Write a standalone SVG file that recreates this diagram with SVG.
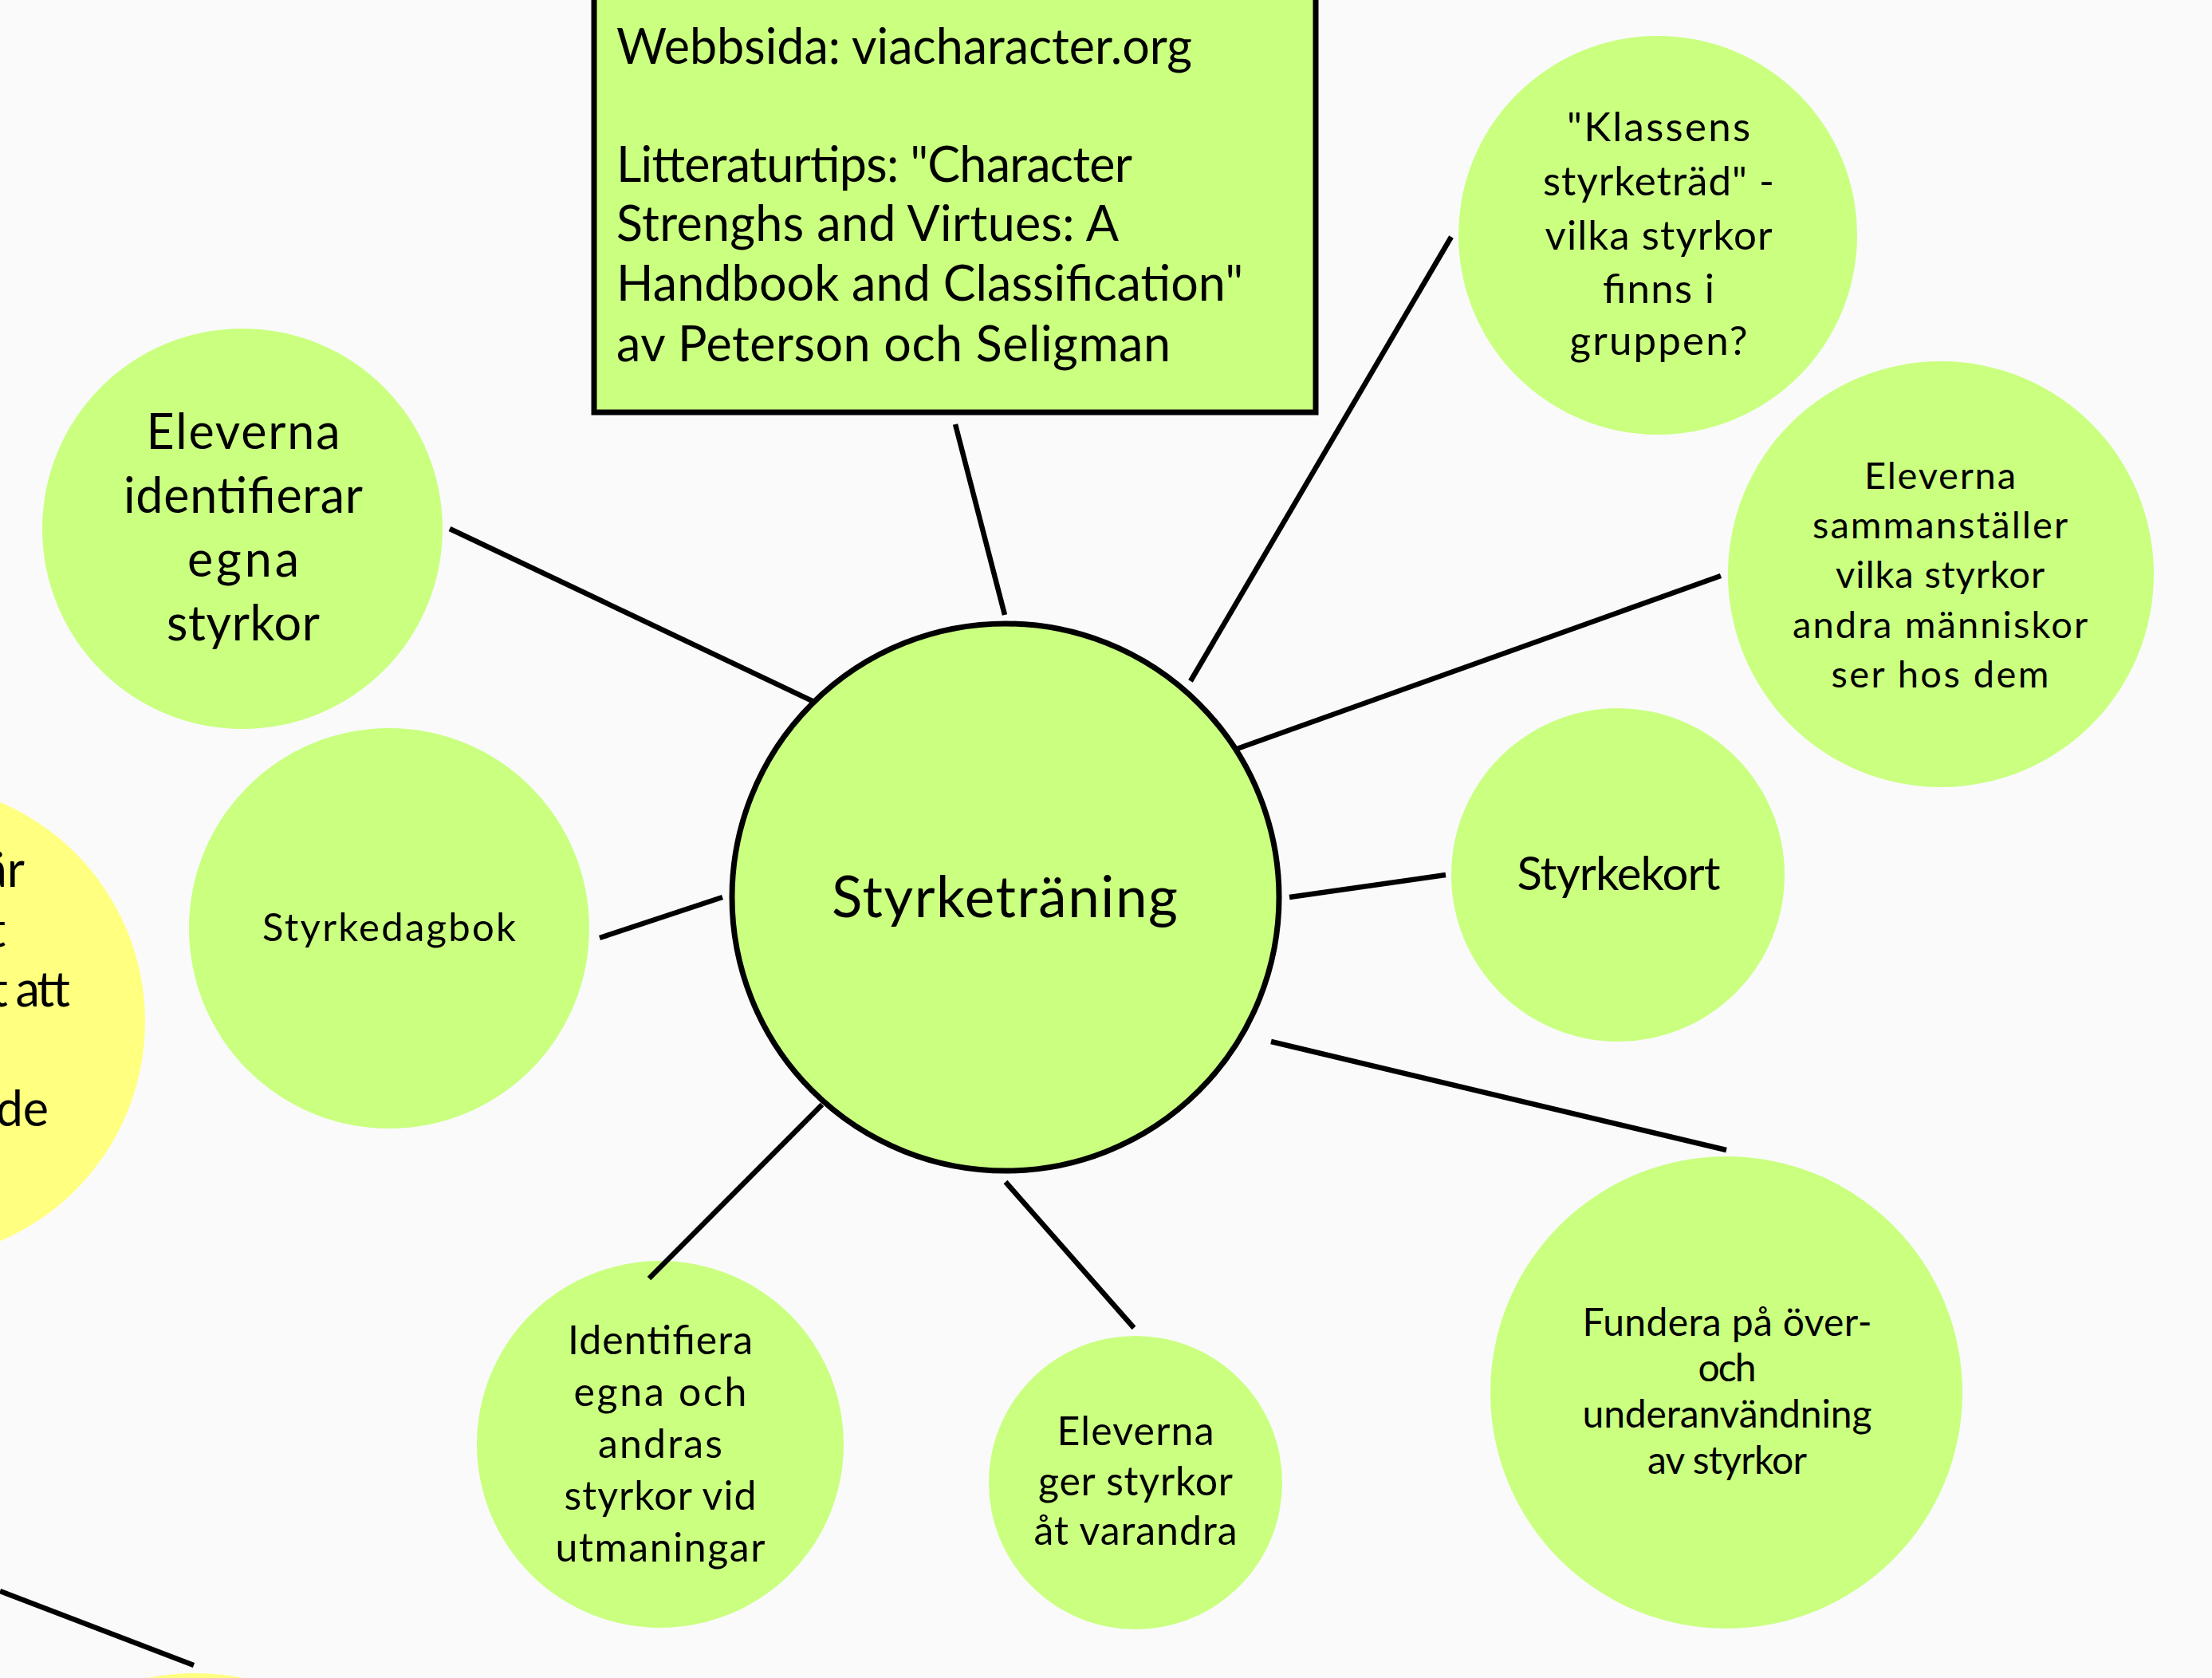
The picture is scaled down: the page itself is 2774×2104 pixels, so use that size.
<svg xmlns="http://www.w3.org/2000/svg" width="2774" height="2104" viewBox="0 0 2774 2104">
<style>
.bg{fill:#fafafa}
.g{fill:#caff80}
.y{fill:#ffff80}
.c{stroke:#000;stroke-width:6.5;fill:none;stroke-linecap:butt}
text{font-family:Lato,"Liberation Sans",sans-serif;fill:#000}
.m{text-anchor:middle}
</style>
<rect class="bg" x="0" y="0" width="2774" height="2104"/>
<g id="node-info">
<rect x="745" y="-20" width="905" height="537" fill="#caff80" stroke="#000" stroke-width="7"/>
<g font-size="61">
<text x="773" y="80" textLength="722" lengthAdjust="spacing">Webbsida: viacharacter.org</text>
<text x="773" y="228" textLength="647" lengthAdjust="spacing">Litteraturtips: "Character</text>
<text x="773" y="302" textLength="630" lengthAdjust="spacing">Strenghs and Virtues: A</text>
<text x="773" y="377" textLength="786" lengthAdjust="spacing">Handbook and Classification"</text>
<text x="773" y="453" textLength="695" lengthAdjust="spacing">av Peterson och Seligman</text>
</g>
</g>
<g id="node-center">
<circle cx="1261" cy="1125" r="343" fill="#caff80" stroke="#000" stroke-width="7"/>
<text class="m" font-size="71" x="1260" y="1150" textLength="434" lengthAdjust="spacing">Styrketräning</text>
</g>
<g id="node-identifierar">
<circle class="g" cx="304" cy="663" r="251"/>
<g font-size="61">
<text class="m" x="305" y="563" textLength="243" lengthAdjust="spacing">Eleverna</text>
<text class="m" x="305" y="643" textLength="300" lengthAdjust="spacing">identifierar</text>
<text class="m" x="305" y="723" textLength="140" lengthAdjust="spacing">egna</text>
<text class="m" x="305" y="803" textLength="192" lengthAdjust="spacing">styrkor</text>
</g>
</g>
<g id="node-dagbok">
<circle class="g" cx="488" cy="1164" r="251"/>
<text class="m" font-size="49" x="488" y="1180" textLength="318" lengthAdjust="spacing">Styrkedagbok</text>
</g>
<g id="node-yellow-left">
<circle class="y" cx="-117" cy="1281" r="299"/>
<g font-size="61" text-anchor="end">
<text x="31" y="1112">är</text>
<text x="7" y="1187">t</text>
<text x="88" y="1262" textLength="100" lengthAdjust="spacing">t att</text>
<text x="61" y="1412">de</text>
</g>
</g>
<g id="node-yellow-bottom">
<circle class="y" cx="245" cy="2398" r="300"/>
</g>
<g id="node-klassens">
<circle class="g" cx="2079" cy="295" r="250"/>
<g font-size="51">
<text class="m" x="2080" y="177" textLength="230" lengthAdjust="spacing">"Klassens</text>
<text class="m" x="2080" y="245" textLength="290" lengthAdjust="spacing">styrketräd" -</text>
<text class="m" x="2080" y="313" textLength="285" lengthAdjust="spacing">vilka styrkor</text>
<text class="m" x="2080" y="380" textLength="140" lengthAdjust="spacing">finns i</text>
<text class="m" x="2080" y="445" textLength="223" lengthAdjust="spacing">gruppen?</text>
</g>
</g>
<g id="node-sammanstaller">
<circle class="g" cx="2434" cy="720" r="267"/>
<g font-size="47">
<text class="m" x="2433" y="613" textLength="190" lengthAdjust="spacing">Eleverna</text>
<text class="m" x="2433" y="675" textLength="320" lengthAdjust="spacing">sammanställer</text>
<text class="m" x="2433" y="737" textLength="262" lengthAdjust="spacing">vilka styrkor</text>
<text class="m" x="2433" y="800" textLength="370" lengthAdjust="spacing">andra människor</text>
<text class="m" x="2433" y="862" textLength="273" lengthAdjust="spacing">ser hos dem</text>
</g>
</g>
<g id="node-styrkekort">
<circle class="g" cx="2029" cy="1097" r="209"/>
<text class="m" font-size="58" x="2030" y="1116" textLength="255" lengthAdjust="spacing">Styrkekort</text>
</g>
<g id="node-fundera">
<circle class="g" cx="2165" cy="1746" r="296"/>
<g font-size="48">
<text class="m" x="2166" y="1675" textLength="363" lengthAdjust="spacing">Fundera på över-</text>
<text class="m" x="2166" y="1732" textLength="73" lengthAdjust="spacing">och</text>
<text class="m" x="2166" y="1790" textLength="363" lengthAdjust="spacing">underanvändning</text>
<text class="m" x="2166" y="1848" textLength="200" lengthAdjust="spacing">av styrkor</text>
</g>
</g>
<g id="node-ger">
<circle class="g" cx="1424" cy="1859" r="184"/>
<g font-size="50">
<text class="m" x="1424" y="1812" textLength="197" lengthAdjust="spacing">Eleverna</text>
<text class="m" x="1424" y="1875" textLength="244" lengthAdjust="spacing">ger styrkor</text>
<text class="m" x="1424" y="1937" textLength="255" lengthAdjust="spacing">åt varandra</text>
</g>
</g>
<g id="node-utmaningar">
<circle class="g" cx="828" cy="1811" r="230"/>
<g font-size="50">
<text class="m" x="828" y="1698" textLength="232" lengthAdjust="spacing">Identifiera</text>
<text class="m" x="828" y="1763" textLength="217" lengthAdjust="spacing">egna och</text>
<text class="m" x="828" y="1828" textLength="156" lengthAdjust="spacing">andras</text>
<text class="m" x="828" y="1893" textLength="241" lengthAdjust="spacing">styrkor vid</text>
<text class="m" x="828" y="1958" textLength="263" lengthAdjust="spacing">utmaningar</text>
</g>
</g>
<g id="connectors">
<line class="c" x1="1198" y1="532" x2="1260" y2="771"/>
<line class="c" x1="1820" y1="297" x2="1493" y2="854"/>
<line class="c" x1="2158" y1="722" x2="1551" y2="939"/>
<line class="c" x1="1813" y1="1097" x2="1617" y2="1125"/>
<line class="c" x1="2165" y1="1442" x2="1594" y2="1306"/>
<line class="c" x1="1422" y1="1665" x2="1261" y2="1482"/>
<line class="c" x1="814" y1="1603" x2="1031" y2="1385"/>
<line class="c" x1="752" y1="1176" x2="906" y2="1125"/>
<line class="c" x1="564" y1="663" x2="1019" y2="879"/>
<line class="c" x1="0" y1="1995" x2="243" y2="2088"/>
</g>
</svg>
